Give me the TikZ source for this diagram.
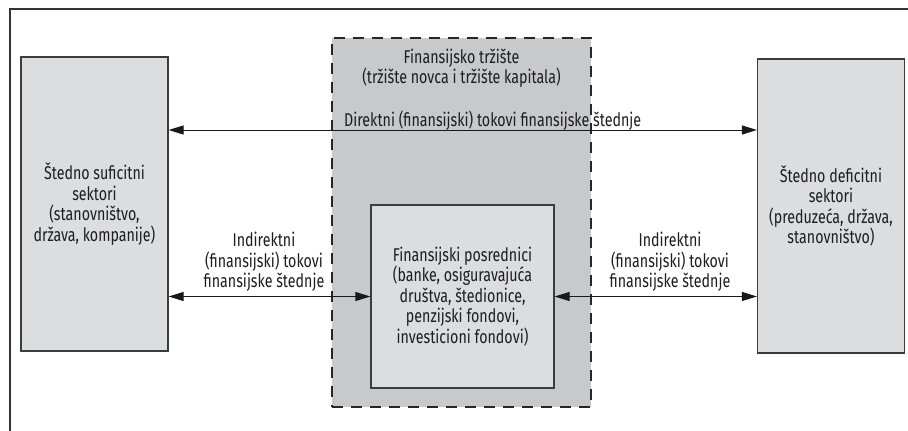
\documentclass[tikz,border=0pt]{standalone}
\usepackage{fontspec}
\setmainfont[FakeStretch=0.77]{Fira Sans}
\usetikzlibrary{arrows.meta,positioning,calc}
\definecolor{svetlosiva}{RGB}{220,221,222}
\definecolor{tamnosiva}{RGB}{200,201,203}
\definecolor{ivica}{RGB}{60,60,60}
\definecolor{tekst}{RGB}{30,28,28}

\begin{document}
\begin{tikzpicture}[
            x=1pt, y=-1pt,
            font=\fontsize{18.5}{20.5}\selectfont, text=tekst,
            sektor/.style = {rectangle, draw=ivica, line width=1.2pt, fill=svetlosiva, minimum width=147pt, minimum height=294pt, align=center, inner sep=0pt},
            trziste/.style = {rectangle, draw=black!85, line width=2.7pt, dash pattern=on 11pt off 8pt, fill=tamnosiva, minimum width=259pt, minimum height=369pt, inner sep=0pt},
            posrednik/.style = {rectangle, draw=ivica, line width=1.2pt, fill=svetlosiva, minimum width=183pt, minimum height=183pt, align=center, inner sep=0pt},
            natpis/.style = {align=center, inner sep=0pt},
            tok/.style = {{Triangle[length=15pt,width=9pt]}-{Triangle[length=15pt,width=9pt]}, line width=1pt, draw=black!90}
        ]
        \useasboundingbox (0,0) rectangle (908,431);

        % Okvir slike
        \draw [line width=1.5pt, draw=black!80] (10,431) -- (10,9) -- (908,9);

        % Finansijsko trziste
        \node [trziste] (market) at (461.5,222.5) {};
        \node [natpis, below=12pt of market.north] (mtitle) {Finansijsko tržište\\(tržište novca i tržište kapitala)};

        % Finansijski posrednici
        \node [posrednik] (inner) at (462.5,296.5) {Finansijski posrednici\\(banke, osiguravajuća\\društva, štedionice,\\penzijski fondovi,\\investicioni fondovi)};

        % Sektori
        \node [sektor] (left) at (94.5,204) {Štedno suficitni\\sektori\\(stanovništvo,\\država, kompanije)};
        \node [sektor] (right) at (831,206) {Štedno deficitni\\sektori\\(preduzeća, država,\\stanovništvo)};

        % Direktni tokovi
        \coordinate (d) at (0,130);
        \draw [tok] (left.east |- d) -- (right.west |- d);
        \node [natpis, anchor=base west] (dlabel) at (344,126) {Direktni (finansijski) tokovi finansijske štednje};

        % Indirektni tokovi
        \draw [tok] (inner.west -| left.east) -- (inner.west);
        \draw [tok] (inner.east) -- (inner.east -| right.west);
        \node [natpis] (ilabel) at (264,262) {Indirektni\\(finansijski) tokovi\\finansijske štednje};
        \node [natpis] (rlabel) at (670,262) {Indirektni\\(finansijski) tokovi\\finansijske štednje};

    \end{tikzpicture}
\end{document}
